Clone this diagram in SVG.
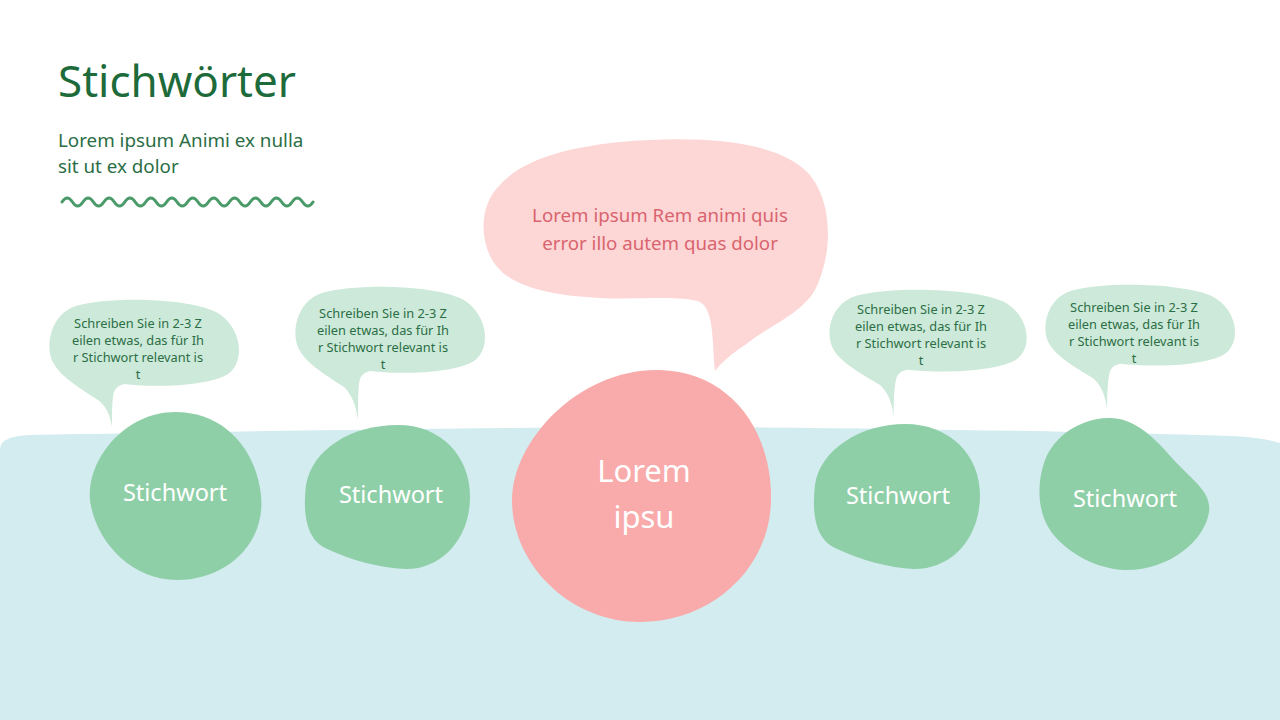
<svg xmlns="http://www.w3.org/2000/svg" width="1280" height="720" viewBox="0 0 1280 720">
<style>
text{font-family:"Noto Sans","Open Sans","DejaVu Sans",sans-serif}
.bub{fill:#cde9d9}
.node{fill:#8fcfa8}
.btxt{fill:#2b6e45;font-size:12.8px;text-anchor:middle}
.ntxt{fill:#ffffff;font-size:23.5px;text-anchor:middle}
</style>
<rect width="1280" height="720" fill="#ffffff"/>
<path id="sea" d="M 0 450 C 0 440, 10 436, 30 435 C 200 432, 500 427, 700 427 C 900 428, 1100 432, 1230 436 C 1255 437, 1270 440, 1280 443 L 1280 720 L 0 720 Z" fill="#d3ecf0"/>

<g id="header">
<text x="58" y="97" font-size="44" fill="#1d6b3a">Stichwörter</text>
<text x="58" y="147" font-size="18.8" fill="#2b6e45">Lorem ipsum Animi ex nulla</text>
<text x="58" y="173" font-size="18.8" fill="#2b6e45">sit ut ex dolor</text>
<path d="M 62 202 q 5.23 -8 10.46 0 t 10.46 0 t 10.46 0 t 10.46 0 t 10.46 0 t 10.46 0 t 10.46 0 t 10.46 0 t 10.46 0 t 10.46 0 t 10.46 0 t 10.46 0 t 10.46 0 t 10.46 0 t 10.46 0 t 10.46 0 t 10.46 0 t 10.46 0 t 10.46 0 t 10.46 0 t 10.46 0 t 10.46 0 t 10.46 0 t 10.46 0" fill="none" stroke="#4a9a6a" stroke-width="3" stroke-linecap="round"/>
</g>

<g id="connectors"></g>

<g id="callout-main">
<path d="M 715 371 C 712 340, 714 310, 700 302 C 680 295, 640 300, 600 298 C 560 296, 520 290, 500 270 C 478 248, 478 205, 500 185 C 520 162, 560 148, 620 142 C 690 136, 770 138, 805 170 C 832 195, 835 250, 815 290 C 800 315, 770 325, 745 345 C 730 355, 722 362, 715 371 Z" fill="#fdd6d6"/>
<text x="660" y="222" font-size="18.7" fill="#d9646e" text-anchor="middle">Lorem ipsum Rem animi quis</text>
<text x="660" y="250" font-size="18.7" fill="#d9646e" text-anchor="middle">error illo autem quas dolor</text>
</g>

<g id="bubble-1">
<path class="bub" transform="translate(48,298)" d="M 76 86 C 110 90, 160 88, 180 76 C 198 64, 194 28, 168 14 C 140 0, 62 -2, 28 8 C 2 16, -4 50, 6 66 C 14 80, 35 92, 50 102 C 58 108, 62 116, 64 129 C 64 115, 64 100, 66 94 C 68 89, 72 87, 76 86 Z"/>
<text class="btxt" x="138" y="328">Schreiben Sie in 2-3 Z</text>
<text class="btxt" x="138" y="345">eilen etwas, das für Ih</text>
<text class="btxt" x="138" y="362">r Stichwort relevant is</text>
<text class="btxt" x="138" y="379">t</text>
</g>

<g id="bubble-2">
<path class="bub" transform="translate(294,285)" d="M 76 86 C 110 90, 160 88, 180 76 C 198 64, 194 28, 168 14 C 140 0, 62 -2, 28 8 C 2 16, -4 50, 6 66 C 14 80, 35 92, 50 102 C 58 110, 62 120, 64 135 C 64 118, 64 100, 66 94 C 68 89, 72 87, 76 86 Z"/>
<text class="btxt" x="383" y="318">Schreiben Sie in 2-3 Z</text>
<text class="btxt" x="383" y="335">eilen etwas, das für Ih</text>
<text class="btxt" x="383" y="352">r Stichwort relevant is</text>
<text class="btxt" x="383" y="369">t</text>
</g>

<g id="bubble-3">
<path class="bub" transform="translate(828,288) scale(1.04,0.95)" d="M 76 86 C 110 90, 160 88, 180 76 C 198 64, 194 28, 168 14 C 140 0, 62 -2, 28 8 C 2 16, -4 50, 6 66 C 14 80, 35 92, 50 102 C 58 110, 62 122, 63 136 C 63 118, 64 100, 66 94 C 68 89, 72 87, 76 86 Z"/>
<text class="btxt" x="921" y="314">Schreiben Sie in 2-3 Z</text>
<text class="btxt" x="921" y="331">eilen etwas, das für Ih</text>
<text class="btxt" x="921" y="348">r Stichwort relevant is</text>
<text class="btxt" x="921" y="365">t</text>
</g>

<g id="bubble-4">
<path class="bub" transform="translate(1044,283) scale(1,0.94)" d="M 76 86 C 110 90, 160 88, 180 76 C 198 64, 194 28, 168 14 C 140 0, 62 -2, 28 8 C 2 16, -4 50, 6 66 C 14 80, 35 92, 50 102 C 58 110, 62 122, 63 135 C 63 118, 64 100, 66 94 C 68 89, 72 87, 76 86 Z"/>
<text class="btxt" x="1134" y="312">Schreiben Sie in 2-3 Z</text>
<text class="btxt" x="1134" y="329">eilen etwas, das für Ih</text>
<text class="btxt" x="1134" y="346">r Stichwort relevant is</text>
<text class="btxt" x="1134" y="363">t</text>
</g>

<g id="node-1">
<path class="node" d="M 175 412 C 225 412, 256 450, 261 495 C 266 545, 225 580, 177 580 C 130 580, 95 540, 90 500 C 86 460, 125 412, 175 412 Z"/>
<text class="ntxt" x="175" y="501">Stichwort</text>
</g>

<g id="node-2">
<path class="node" d="M 398 425 C 440 425, 470 455, 470 497 C 470 540, 440 570, 405 569 C 380 568, 350 560, 325 548 C 305 538, 303 510, 306 485 C 312 450, 350 425, 398 425 Z"/>
<text class="ntxt" x="391" y="503">Stichwort</text>
</g>

<g id="node-center">
<path d="M 660 370 C 730 372, 772 430, 771 500 C 770 570, 710 622, 640 622 C 570 622, 512 565, 512 500 C 512 440, 580 368, 660 370 Z" fill="#f9aaaa"/>
<text x="644" y="482" font-size="31" fill="#ffffff" text-anchor="middle">Lorem</text>
<text x="644" y="528" font-size="31" fill="#ffffff" text-anchor="middle">ipsu</text>
</g>

<g id="node-3">
<path class="node" d="M 905 424 C 950 424, 980 455, 980 495 C 980 540, 950 570, 913 569 C 890 568, 860 560, 835 548 C 814 538, 812 510, 815 485 C 820 450, 860 424, 905 424 Z"/>
<text class="ntxt" x="898" y="504">Stichwort</text>
</g>

<g id="node-4">
<path class="node" d="M 1108 418 C 1130 417, 1150 432, 1172 458 C 1192 480, 1212 492, 1209 512 C 1205 540, 1170 571, 1124 570 C 1090 568, 1062 548, 1050 530 C 1038 512, 1036 485, 1045 460 C 1055 435, 1080 419, 1108 418 Z"/>
<text class="ntxt" x="1125" y="507">Stichwort</text>
</g>
</svg>
